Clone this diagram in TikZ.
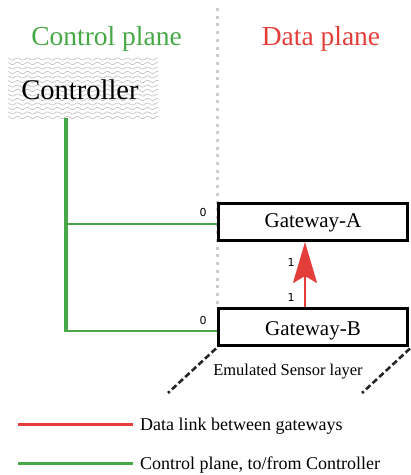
\documentclass[tikz,border=0pt]{standalone}
\usepackage{fontspec}
\setmainfont{Liberation Serif}
\newfontfamily\numfont{DejaVu Sans}
\usetikzlibrary{arrows.meta,calc}
\definecolor{cgreen}{RGB}{70,168,70}
\definecolor{cred}{RGB}{228,62,58}
\begin{document}
\begin{tikzpicture}[x=1pt,y=-1pt,
  gw/.style={draw=black,line width=3pt,fill=white,minimum width=189pt,minimum height=37pt,inner sep=0pt,font=\fontsize{21}{21}\selectfont},
  title/.style={anchor=base,inner sep=0pt,font=\fontsize{27.5}{27.5}\selectfont},
  num/.style={inner sep=0pt,font=\numfont\fontsize{11}{11}\selectfont},
  legtxt/.style={anchor=base west,inner sep=0pt,font=\fontsize{18}{18}\selectfont},
  ctrlline/.style={cgreen,line width=2pt},
  sensor/.style={black!85,line width=2.6pt,dash pattern=on 6pt off 3pt},
]
\useasboundingbox (0,0) rectangle (411,475);
% plane separator
\draw[gray!40,line width=3pt,dash pattern=on 3pt off 4.7pt] (217,8) -- (217,305);
% titles
\node[title,text=cgreen] (tcp) at (106.5,45) {Control plane};
\node[title,text=cred] (tdp) at (321,45) {Data plane};
% controller wavy box
\begin{scope}
\clip (8,57) rectangle (158,118);
\foreach \yy in {59,63.5,...,120}{
  \draw[gray!50,line width=0.6pt] plot[domain=6:160,samples=120,smooth] (\x,{\yy+1.1*sin(\x*36)});
}
\end{scope}
\node[draw=none,minimum width=150pt,minimum height=61pt,inner sep=0pt] (ctrl) at (83,87.5) {};
\node[anchor=base,inner sep=0pt,font=\fontsize{28.5}{28.5}\selectfont] (ctrltxt) at (80,99) {Controller};
% gateways
\node[gw] (gwA) at (313,222) {};
\node[anchor=base,inner sep=0pt,font=\fontsize{21}{21}\selectfont] at (313,227.5) {Gateway-A};
\node[gw] (gwB) at (313,327) {};
\node[anchor=base,inner sep=0pt,font=\fontsize{21}{21}\selectfont] at (313,335.5) {Gateway-B};
% control links
\coordinate (trunk) at (66,118);
\coordinate (elbowA) at (66,224);
\coordinate (elbowB) at (66,331);
\draw[cgreen,line width=4pt] (trunk) -- ($(elbowB)+(0,1)$);
\draw[ctrlline] (elbowA) -- (elbowA -| gwA.west);
\draw[ctrlline] (elbowB) -- (elbowB -| gwB.west);
\node[num] (zA) at (203,212) {0};
\node[num] (zB) at (203,320) {0};
% data link
\draw[cred,line width=2.5pt,-{Stealth[length=41pt,width=24pt,inset=7pt]}] ($(gwB.north)+(-8,0)$) -- ($(gwA.south)+(-8,0)$);
\node[num] (oA) at (291,262) {1};
\node[num] (oB) at (291,297) {1};
% sensor layer
\coordinate (sl) at (168,393);
\coordinate (sr) at (362,393);
\draw[sensor] ($(gwB.south west)+(-1,1.5)$) -- (sl);
\draw[sensor] ($(gwB.south east)+(1,1.5)$) -- (sr);
\node[anchor=base,inner sep=0pt,font=\fontsize{16.5}{16.5}\selectfont] (slt) at (288,375) {Emulated Sensor layer};
% legend
\node[legtxt] (legR) at (140,430.5) {Data link between gateways};
\node[legtxt] (legG) at (140,469.5) {Control plane, to/from Controller};
\coordinate (lr) at (18,424);
\coordinate (lg) at (18,463);
\draw[cred,line width=3pt] (lr) -- (lr -| 133,0);
\draw[cgreen,line width=3pt] (lg) -- (lg -| 133,0);
\end{tikzpicture}
\end{document}
